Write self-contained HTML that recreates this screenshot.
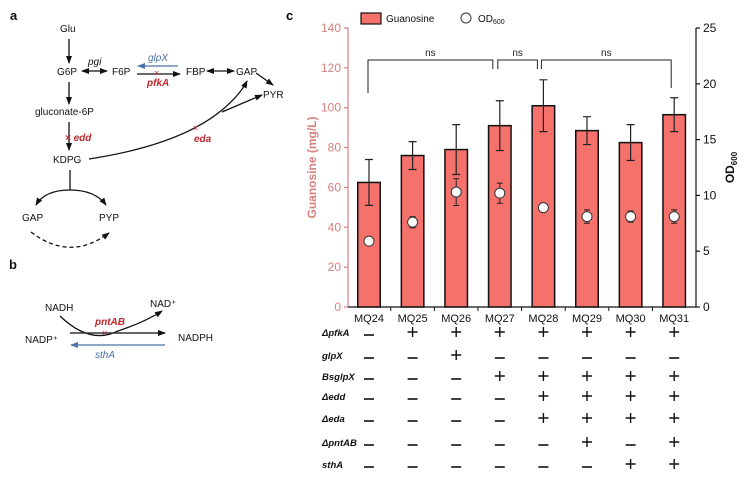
<!DOCTYPE html>
<html><head><meta charset="utf-8"><style>
html,body{margin:0;padding:0;background:#fff;width:744px;height:478px;overflow:hidden}
svg{display:block;font-family:"Liberation Sans",Arial,sans-serif}
</style></head><body>
<svg id="fig" width="744" height="478" viewBox="0 0 744 478">
<defs>
<marker id="ah" markerWidth="8" markerHeight="8" refX="7" refY="4" orient="auto" markerUnits="userSpaceOnUse"><path d="M0,1 L8,4 L0,7 z" fill="#111"/></marker>
<marker id="ahs" markerWidth="8" markerHeight="8" refX="1" refY="4" orient="auto" markerUnits="userSpaceOnUse"><path d="M8,1 L0,4 L8,7 z" fill="#111"/></marker>
<marker id="ahb" markerWidth="8" markerHeight="8" refX="7" refY="4" orient="auto" markerUnits="userSpaceOnUse"><path d="M0,1 L8,4 L0,7 z" fill="#4a72a8"/></marker>
</defs>
<g font-size="10" fill="#111">
<text x="10" y="20" font-weight="bold" font-size="13">a</text>
<text x="60" y="32">Glu</text>
<line x1="69" y1="39" x2="69" y2="63" stroke="#111" stroke-width="1.3" marker-end="url(#ah)"/>
<text x="57" y="75">G6P</text>
<text x="88" y="65" font-style="italic">pgi</text>
<line x1="82" y1="71" x2="107" y2="71" stroke="#111" stroke-width="1.3" marker-end="url(#ah)" marker-start="url(#ahs)"/>
<text x="112" y="75">F6P</text>
<line x1="178" y1="66" x2="138" y2="66" stroke="#4a72a8" stroke-width="1.3" marker-end="url(#ahb)"/>
<text x="148" y="61" font-style="italic" fill="#4a72a8">glpX</text>
<line x1="137" y1="74" x2="180" y2="74" stroke="#111" stroke-width="1.3" marker-end="url(#ah)"/>
<text x="154" y="76" fill="#c0272d" font-size="9">×</text>
<text x="147" y="86" font-style="italic" font-weight="bold" fill="#c0272d">pfkA</text>
<text x="186" y="75">FBP</text>
<line x1="207" y1="71" x2="234" y2="71" stroke="#111" stroke-width="1.3" marker-end="url(#ah)" marker-start="url(#ahs)"/>
<text x="236" y="75">GAP</text>
<line x1="256" y1="73" x2="273" y2="85" stroke="#111" stroke-width="1.3" marker-end="url(#ah)"/>
<text x="263" y="98">PYR</text>
<line x1="69" y1="82" x2="69" y2="104" stroke="#111" stroke-width="1.3" marker-end="url(#ah)"/>
<text x="35" y="115">gluconate-6P</text>
<line x1="69" y1="122" x2="69" y2="150" stroke="#111" stroke-width="1.3" marker-end="url(#ah)"/>
<text x="65" y="141" fill="#c0272d" font-style="italic" font-weight="bold">× edd</text>
<text x="53" y="163">KDPG</text>
<path d="M89,159 Q180,145 222,110 Q240,95 247,81" fill="none" stroke="#111" stroke-width="1.3" marker-end="url(#ah)"/>
<line x1="222" y1="112" x2="262" y2="95" stroke="#111" stroke-width="1.3" marker-end="url(#ah)"/>
<text x="193" y="131" fill="#c0272d" font-size="9">×</text>
<text x="194" y="142" fill="#c0272d" font-style="italic" font-weight="bold">eda</text>
<line x1="70" y1="170" x2="70" y2="190" stroke="#111" stroke-width="1.3"/>
<path d="M70,190 Q45,190 36,205" fill="none" stroke="#111" stroke-width="1.3" marker-end="url(#ah)"/>
<path d="M70,190 Q95,190 106,205" fill="none" stroke="#111" stroke-width="1.3" marker-end="url(#ah)"/>
<text x="22" y="221">GAP</text>
<text x="99" y="221">PYP</text>
<path d="M31,232 Q70,262 109,233" fill="none" stroke="#111" stroke-width="1.3" stroke-dasharray="4,3" marker-end="url(#ah)"/>
</g>
<g font-size="10" fill="#111">
<text x="9" y="269" font-weight="bold" font-size="13">b</text>
<text x="45" y="311">NADH</text>
<text x="150" y="307">NAD⁺</text>
<path d="M60,316 Q90,345 118,331 Q145,322 162,311" fill="none" stroke="#111" stroke-width="1.3" marker-end="url(#ah)"/>
<text x="95" y="325" fill="#c0272d" font-style="italic" font-weight="bold">pntAB</text>
<line x1="70" y1="333" x2="165" y2="333" stroke="#333" stroke-width="1.5" marker-end="url(#ah)"/>
<text x="102" y="336" fill="#c0272d" font-size="9">×</text>
<text x="25" y="343">NADP⁺</text>
<text x="178" y="341">NADPH</text>
<line x1="165" y1="345" x2="71" y2="345" stroke="#4a72a8" stroke-width="1.3" marker-end="url(#ahb)"/>
<text x="95" y="358" fill="#4a72a8" font-style="italic">sthA</text>
</g>
<text x="286" y="20" font-weight="bold" font-size="13">c</text>
<g id="chart"></g>
</svg>
<script>
const strains=["MQ24","MQ25","MQ26","MQ27","MQ28","MQ29","MQ30","MQ31"];
const guanosine=[62.5,76,79,91,101,88.5,82.5,96.5];
const guanosineErr=[11.5,7,12.5,12.5,13,7,9,8.5];
const od600=[5.9,7.6,10.3,10.2,8.9,8.1,8.1,8.1];
const odErr=[0.3,0.5,1.2,0.9,0.2,0.6,0.5,0.6];
const leftTicks=[0,20,40,60,80,100,120,140];
const rightTicks=[0,5,10,15,20,25];
const rowLabels=["ΔpfkA","glpX","BsglpX","Δedd","Δeda","ΔpntAB","sthA"];
const rowValues=[
"-+++++++",
"--+-----",
"---+++++",
"----++++",
"----++++",
"-----+-+",
"------++"];
const brackets=[[0,3,"ns"],[3,4,"ns"],[4,7,"ns"]];

const NS="http://www.w3.org/2000/svg";
const g=document.getElementById('chart');
const X0=348,X1=696,Y0=307,Y1=28;
const yL=v=>Y0-(v/140)*(Y0-Y1);
const yR=v=>Y0-(v/25)*(Y0-Y1);
const xC=i=>369+i*43.6;
const BW=22.5;
function mk(t,a,p){const e=document.createElementNS(NS,t);for(const k in a)e.setAttribute(k,a[k]);(p||g).appendChild(e);return e;}
const pink="#d98080";
let ax=mk('line',{x1:X0,y1:Y1,x2:X0,y2:Y0,stroke:pink,'stroke-width':1.2});

let ax2=mk('line',{x1:X1,y1:Y1,x2:X1,y2:Y0,stroke:'#111','stroke-width':1.2});

let ax3=mk('line',{x1:X0,y1:Y0,x2:X1,y2:Y0,stroke:'#111','stroke-width':1.2});

leftTicks.forEach(v=>{
 mk('line',{x1:X0-4,y1:yL(v),x2:X0,y2:yL(v),stroke:pink,'stroke-width':1.2});
 const t=mk('text',{x:X0-7,y:yL(v)+4,'text-anchor':'end','font-size':12,fill:pink});t.textContent=v;
 
 
});
rightTicks.forEach(v=>{
 mk('line',{x1:X1,y1:yR(v),x2:X1+4,y2:yR(v),stroke:'#111','stroke-width':1.2});
 const t=mk('text',{x:X1+7,y:yR(v)+4,'font-size':12,fill:'#111'});t.textContent=v;
 
 
});
let yt=mk('text',{x:0,y:0,transform:`translate(316,${(Y0+Y1)/2}) rotate(-90)`,'text-anchor':'middle','font-size':12,'font-weight':'bold',fill:pink});
yt.textContent="Guanosine (mg/L)";

let yt2=mk('text',{x:0,y:0,transform:`translate(734,${(Y0+Y1)/2}) rotate(-90)`,'text-anchor':'middle','font-size':12,'font-weight':'bold',fill:'#111'});
yt2.innerHTML='OD<tspan font-size="8" dy="3">600</tspan>';

strains.forEach((s,i)=>{
 const x=xC(i);
 if(i>0){mk('line',{x1:x-21.8,y1:Y0,x2:x-21.8,y2:Y0+4,stroke:'#111'});}
 const b=mk('rect',{x:x-BW/2,y:yL(guanosine[i]),width:BW,height:Y0-yL(guanosine[i]),fill:'#f4716c',stroke:'#111','stroke-width':1.5});
 
 const hi=yL(guanosine[i]+guanosineErr[i]),lo=yL(guanosine[i]-guanosineErr[i]);
 const e=mk('path',{d:`M${x},${hi}V${lo}M${x-4},${hi}H${x+4}M${x-4},${lo}H${x+4}`,stroke:'#222','stroke-width':1.2,fill:'none'});
 
 const oh=yR(od600[i]+odErr[i]),ol=yR(od600[i]-odErr[i]);
 mk('path',{d:`M${x},${oh}V${ol}M${x-3},${oh}H${x+3}M${x-3},${ol}H${x+3}`,stroke:'#222','stroke-width':1,fill:'none'});
 const c=mk('circle',{cx:x,cy:yR(od600[i]),r:5,fill:'#fff',stroke:'#333','stroke-width':1});
 
 const t=mk('text',{x:x,y:322,'text-anchor':'middle','font-size':11,fill:'#111'});t.textContent=s;
 
});
brackets.forEach(([a,b,l],k)=>{
 const L=k==0?xC(0)-1:xC(a)-2, R=k==0?xC(3)-7:(k==1?xC(4)-6:xC(7)-3);
 const yb=60;
 const ly=k==0?93:69, ry=k==2?88:69;
 const p=mk('path',{d:`M${L},${ly}V${yb}H${R}V${ry}`,stroke:'#222','stroke-width':1,fill:'none'});
 
 const t=mk('text',{x:(L+R)/2,y:yb-4,'text-anchor':'middle','font-size':10,fill:'#222'});t.textContent=l;
 
});
let lr=mk('rect',{x:361,y:13,width:20,height:11,fill:'#f4716c',stroke:'#111','stroke-width':1.2});

let lt=mk('text',{x:386,y:22,'font-size':10,fill:'#111'});lt.textContent="Guanosine";

let lc=mk('circle',{cx:466,cy:18,r:5,fill:'#fff',stroke:'#333'});

let lt2=mk('text',{x:478,y:22,'font-size':10,fill:'#111'});lt2.innerHTML='OD<tspan font-size="7" dy="2">600</tspan>';

const rowY=[332,355,376,396,418,442,464];
rowLabels.forEach((lab,r)=>{
 const t=mk('text',{x:322,y:rowY[r]+4,'font-size':9.5,'font-style':'italic','font-weight':'bold',fill:'#111'});t.textContent=lab;
 
 strains.forEach((s,i)=>{
  const v=rowValues[r][i];const x=xC(i);
  let e;
  if(v=='+'){e=mk('path',{d:`M${x-5},${rowY[r]}H${x+5}M${x},${rowY[r]-5}V${rowY[r]+5}`,stroke:'#111','stroke-width':1.4,fill:'none'});}
  else{e=mk('line',{x1:x-5,y1:rowY[r]+3,x2:x+5,y2:rowY[r]+3,stroke:'#111','stroke-width':1.6});}
  
  
 });
});
</script>
</body></html>
